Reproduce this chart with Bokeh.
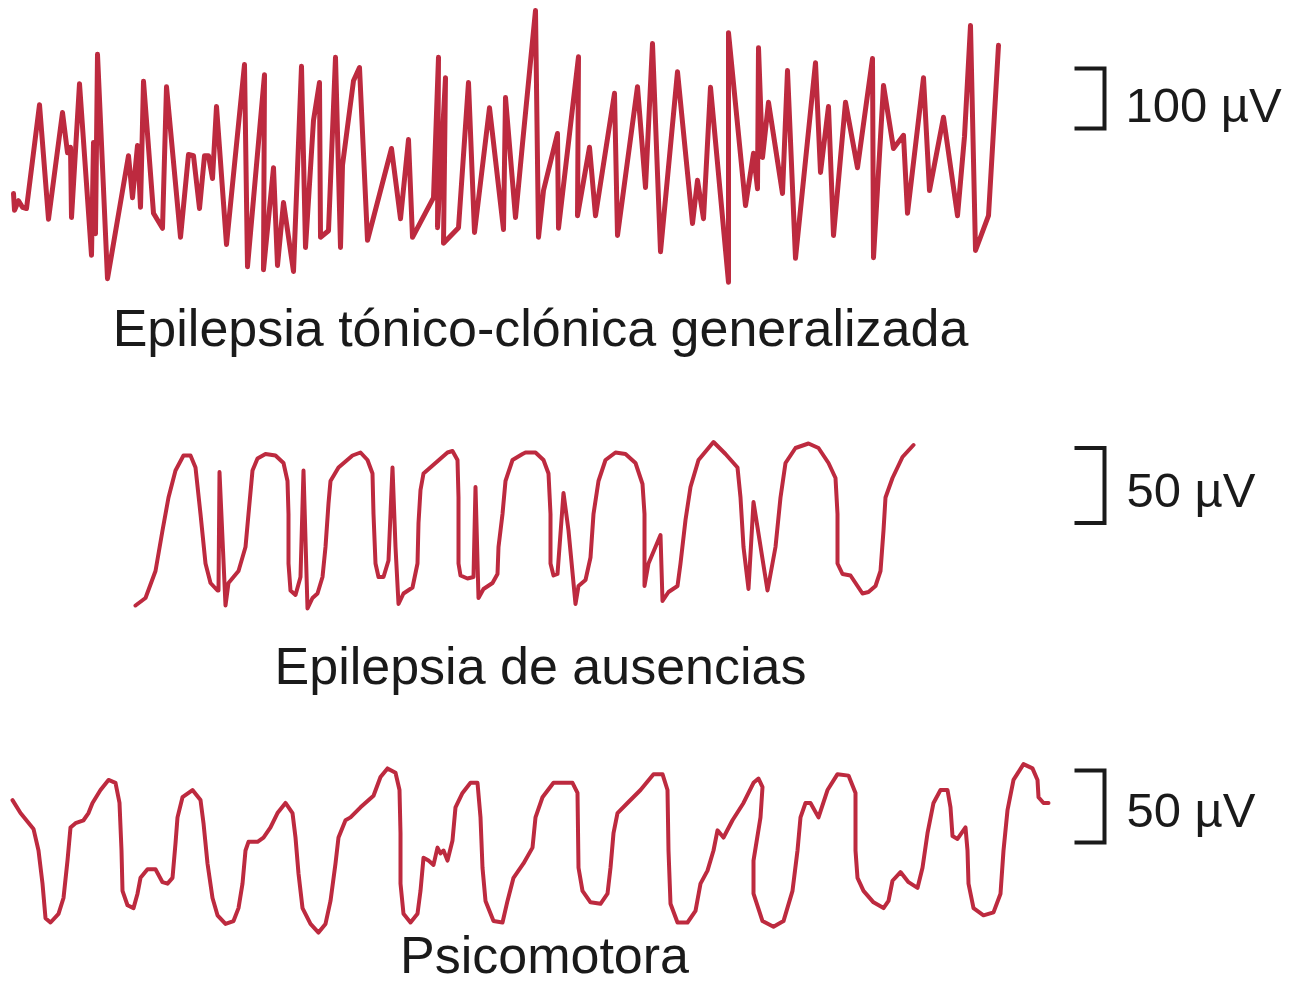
from bokeh.plotting import figure
from bokeh.models import Range1d
from bokeh.core.properties import value
from bokeh.embed import file_html
from bokeh.resources import INLINE

# ---------------- data (time samples, amplitude in µV) ----------------
top_t = [13, 14, 18, 22, 26, 39, 48, 62, 67, 70,
         71, 79, 91, 93, 95, 97, 107, 128, 132, 137,
         140, 143, 153, 162, 166, 180, 188, 193, 199, 204,
         208, 212, 216, 226, 244, 247, 264, 263, 273, 277,
         283, 293, 301, 305, 313, 319, 320, 328, 335, 340,
         342, 353, 359, 367, 391, 400, 408, 412, 433, 438,
         437, 445, 443, 458, 468, 474, 489, 503, 505, 515,
         522, 535, 538, 543, 557, 558, 578, 577, 589, 595,
         614, 617, 637, 645, 652, 660, 677, 692, 697, 703,
         710, 728, 728, 745, 753, 757, 758, 762, 768, 782,
         787, 795, 815, 820, 828, 833, 845, 857, 872, 873,
         883, 893, 903, 907, 923, 929, 943, 957, 964, 970,
         975, 988, 998]
top_uv = [-55, -83, -67, -78, -80, 93, -98, 80, 13, 22,
          -95, 128, -158, 30, -122, 177, -197, 8, -62, 25,
          -78, 132, -88, -113, 123, -128, 10, 8, -80, 8,
          8, -30, 90, -140, 160, -177, 143, -182, -12, -175,
          -70, -185, 157, -145, 67, 130, -128, -117, 172, -145,
          -8, 133, 155, -133, 20, -97, 35, -128, -62, 172,
          -112, 138, -138, -112, 130, -120, 88, -115, 105, -95,
          28, 250, -128, -50, 45, -113, 173, -92, 22, -92,
          112, -125, 123, -45, 195, -152, 148, -105, -33, -97,
          122, -203, 213, -75, 12, -47, 188, 5, 97, -55,
          150, -163, 163, -20, 90, -125, 97, -12, 170, -162,
          125, 20, 42, -88, 138, -50, 72, -92, 40, 225,
          -150, -92, 192]

mid_t = [135, 145, 155, 162, 168, 175, 183, 190, 195, 200,
         205, 210, 217, 218, 219, 225, 228, 238, 245, 248,
         252, 257, 265, 275, 283, 287, 288, 288, 290, 295,
         300, 303, 307, 312, 317, 322, 325, 328, 330, 338,
         352, 360, 367, 372, 373, 375, 378, 383, 388, 392,
         395, 398, 403, 412, 417, 418, 420, 423, 435, 447,
         452, 457, 458, 458, 460, 467, 473, 475, 478, 483,
         492, 497, 498, 502, 505, 512, 522, 525, 535, 543,
         548, 550, 550, 553, 557, 563, 568, 575, 578, 585,
         590, 593, 598, 605, 615, 625, 635, 642, 644, 644,
         648, 660, 662, 668, 677, 680, 685, 690, 698, 713,
         725, 737, 740, 743, 748, 753, 767, 775, 780, 785,
         795, 808, 818, 828, 835, 837, 837, 842, 850, 857,
         862, 868, 875, 880, 883, 885, 892, 902, 913]
mid_uv = [-52, -47, -29, -2, 20, 38, 48, 48, 40, 9,
          -24, -37, -42, -42, 37, -52, -37, -29, -13, 9,
          38, 46, 49, 48, 43, 31, 9, -24, -42, -45,
          -33, 38, -54, -47, -44, -33, -13, 16, 31, 40,
          48, 50, 45, 36, 9, -24, -33, -33, -22, 40,
          -13, -51, -44, -40, -24, 3, 25, 36, 43, 50,
          51, 45, 20, -24, -32, -34, -33, 27, -47, -41,
          -37, -31, -13, 9, 31, 45, 49, 50, 50, 45,
          36, 9, -24, -32, -31, 23, -2, -51, -39, -35,
          -20, 9, 31, 45, 50, 49, 43, 29, 9, -39,
          -24, -5, -49, -43, -39, -24, 5, 27, 45, 57,
          49, 40, 20, -13, -41, 17, -42, -13, 20, 43,
          53, 56, 53, 43, 33, 9, -24, -31, -32, -39,
          -44, -43, -39, -29, -2, 20, 33, 47, 55]

bot_t = [12, 20, 33, 38, 42, 45, 50, 58, 63, 67,
         70, 75, 83, 88, 92, 100, 108, 115, 119, 121,
         122, 127, 133, 137, 140, 147, 155, 162, 167, 172,
         175, 177, 182, 192, 200, 203, 207, 212, 217, 225,
         233, 238, 242, 245, 248, 257, 263, 270, 277, 285,
         292, 295, 298, 302, 310, 318, 325, 330, 335, 338,
         345, 350, 360, 373, 380, 387, 395, 399, 400, 400,
         403, 410, 417, 420, 423, 428, 433, 437, 440, 443,
         447, 452, 455, 462, 470, 477, 480, 482, 485, 493,
         502, 507, 513, 523, 532, 535, 542, 553, 563, 572,
         577, 578, 582, 590, 600, 607, 610, 613, 617, 627,
         640, 653, 662, 667, 668, 670, 677, 687, 695, 700,
         707, 713, 717, 723, 732, 743, 753, 758, 762, 760,
         753, 753, 762, 773, 783, 792, 797, 800, 805, 810,
         818, 827, 837, 848, 855, 855, 857, 863, 873, 883,
         888, 892, 900, 908, 917, 922, 927, 933, 940, 947,
         950, 952, 957, 965, 967, 968, 973, 983, 993, 1000,
         1003, 1007, 1013, 1023, 1032, 1037, 1038, 1043, 1048]
bot_uv = [35, 26, 15, 0, -23, -47, -50, -44, -33, -7,
          16, 19, 21, 26, 33, 42, 49, 47, 33, 0,
          -28, -38, -40, -30, -19, -13, -13, -22, -23, -19,
          5, 23, 37, 42, 35, 19, -9, -33, -45, -51,
          -49, -40, -23, 0, 6, 6, 9, 16, 26, 33,
          26, 9, -16, -40, -51, -57, -51, -35, -9, 9,
          21, 23, 30, 38, 51, 57, 54, 42, 12, -23,
          -44, -50, -44, -28, -5, -7, -10, 2, -2, 0,
          -7, 7, 30, 40, 47, 47, 23, -12, -35, -49,
          -50, -35, -19, -9, 2, 23, 37, 47, 47, 47,
          40, -12, -28, -36, -37, -30, -12, 12, 26, 33,
          42, 53, 53, 42, 0, -37, -50, -50, -42, -23,
          -14, 0, 14, 9, 21, 33, 47, 50, 44, 23,
          -7, -30, -49, -53, -49, -28, 0, 23, 33, 33,
          23, 42, 53, 52, 40, 0, -19, -28, -36, -40,
          -35, -21, -15, -22, -26, -12, 12, 33, 42, 42,
          30, 10, 8, 16, 0, -23, -40, -45, -43, -30,
          0, 28, 49, 60, 57, 49, 37, 33, 33]

trace_titles = ["Epilepsia tónico-clónica generalizada",
                "Epilepsia de ausencias",
                "Psicomotora"]
scale_uv = [100, 50, 50]
scale_labels = ["100 µV", "50 µV", "50 µV"]

# ---------------- layout / style ----------------
W, H = 1286, 986
RED = "#BD2A3F"
INK = "#1a1a1a"
FONT = "Liberation Sans"

traces = [(top_t, top_uv), (mid_t, mid_uv), (bot_t, bot_uv)]
baselines = [160, 527, 850]          # screen row of each trace's zero
gains = [0.6, 1.5, 1.44]             # px per µV
widths = [5.0, 4.0, 4.0]
title_pos = [(540, 327), (540, 665), (544, 954)]
bar_centers = [98, 485, 806]
bar_x = (1074, 1104)
label_pos = [(1125, 104), (1126, 489), (1126, 809)]

p = figure(width=W, height=H, output_backend="svg", toolbar_location=None,
           x_range=Range1d(0, W), y_range=Range1d(H, 0),
           min_border=0, min_border_left=0, min_border_right=0,
           min_border_top=0, min_border_bottom=0)
p.axis.visible = False
p.grid.visible = False
p.outline_line_color = None
p.background_fill_color = "white"
p.border_fill_color = "white"

for (t, uv), b, g, lw in zip(traces, baselines, gains, widths):
    ys = [b - v * g for v in uv]
    p.line(t, ys, line_color=RED, line_width=lw,
           line_join="round", line_cap="round")

for c, uv, g in zip(bar_centers, scale_uv, gains):
    half = uv * g / 2
    p.line([bar_x[0], bar_x[1], bar_x[1], bar_x[0]],
           [c - half, c - half, c + half, c + half],
           line_color=INK, line_width=4, line_join="miter", line_cap="butt")

p.text(x=[q[0] for q in title_pos], y=[q[1] for q in title_pos], text=trace_titles,
       text_font=value(FONT), text_font_size=value("52px"),
       text_align="center", text_baseline="alphabetic", text_color=INK)

p.text(x=[q[0] for q in label_pos], y=[q[1] for q in label_pos], text=scale_labels,
       text_font=value(FONT), text_font_size=value("49px"),
       text_align="left", text_baseline="alphabetic", text_color=INK)

open("out.html", "w").write(file_html(p, INLINE))
